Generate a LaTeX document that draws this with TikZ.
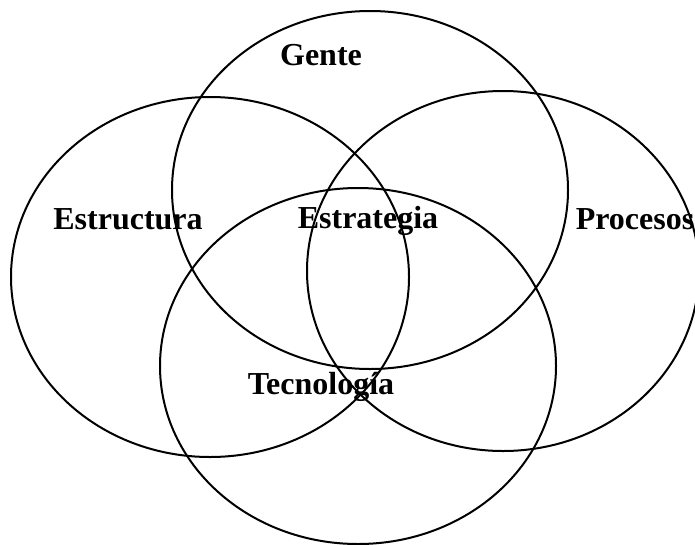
\documentclass[tikz,border=0pt]{standalone}
\usepackage{fontspec}
\setmainfont{Liberation Serif}
\usepackage{tikz}
\usetikzlibrary{positioning}

\begin{document}
\begin{tikzpicture}[x=1pt,y=-1pt,
                    area/.style={draw,line width=2pt},
                    etiq/.style={font=\bfseries\fontsize{32}{32}\selectfont,inner sep=0pt}]
 \clip (0,0) rectangle (695,544);
 % los cuatro conjuntos
 \draw[area] (370,190) ellipse [x radius=198pt, y radius=179pt];
 \draw[area] (210,277) ellipse [x radius=199pt, y radius=180pt];
 \draw[area] (503,271) ellipse [x radius=196pt, y radius=180pt];
 \draw[area] (358,366) ellipse [x radius=198pt, y radius=178pt];
 % etiquetas
 \node[etiq] (gente) at (321,55) {Gente};
 \node[etiq] (estructura) at (128,219) {Estructura};
 \node[etiq] (estrategia) at (368,221) {Estrategia};
 \node[etiq] (procesos) at (635,219) {Procesos};
 \node[etiq] (tecnologia) at (321,387) {Tecnolog\'ia};
\end{tikzpicture}
\end{document}
